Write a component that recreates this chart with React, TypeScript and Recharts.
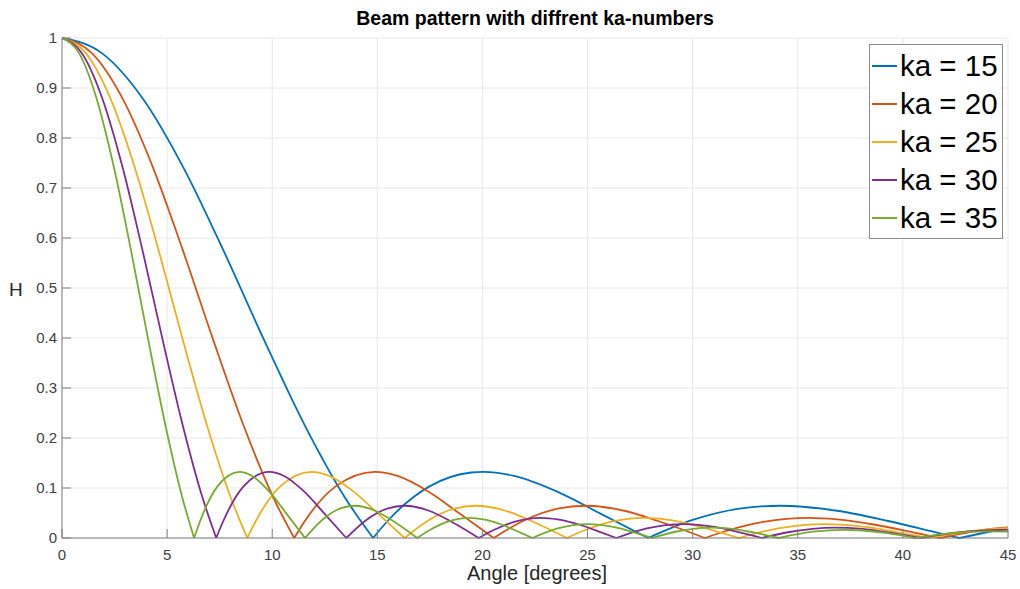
import React from "react";
import { LineChart, Line, XAxis, YAxis, CartesianGrid } from "recharts";

// beam pattern |H| vs angle, one lobe per segment (null = break at each zero)
const ka15Deg = [0, 1.91, 3.823, 5.739, 7.662, 9.594, 11.537, 13.493, 14.8, 14.8, 14.8, 15.466, 17.458, 19.471, 20.04, 21.51, 23.578, 25.68, 27.88, 27.88, 27.88, 30, 32.23, 34.15, 36.87, 39.3, 41.81, 42.7, 42.7, 42.7, 44.43, 45];
const ka15H = [1, 0.9692, 0.8801, 0.7439, 0.5767, 0.3977, 0.2261, 0.0785, 0, null, 0, 0.033, 0.1027, 0.131, 0.1323, 0.1241, 0.0922, 0.0473, 0, null, 0, 0.0361, 0.0587, 0.0645, 0.0545, 0.034, 0.0087, 0, null, 0, 0.015, 0.0195];

const ka20Deg = [0, 1.433, 2.866, 4.301, 5.739, 7.181, 8.627, 10.079, 11.046, 11.046, 11.046, 11.537, 13.003, 14.892, 15.962, 17.458, 18.966, 20.536, 20.536, 20.536, 22.024, 23.578, 24.9, 26.744, 28.36, 30.58, 30.58, 30.58, 31.67, 33.367, 35.52, 36.87, 38.68, 40.54, 41.77, 41.77, 41.77, 44.43, 45];
const ka20H = [1, 0.9692, 0.8801, 0.7439, 0.5767, 0.3977, 0.2261, 0.0785, 0, null, 0, 0.033, 0.1027, 0.1323, 0.1241, 0.0922, 0.0473, 0, null, 0, 0.0361, 0.0587, 0.0645, 0.0545, 0.034, 0, null, 0, 0.015, 0.0321, 0.0403, 0.0372, 0.0265, 0.0108, 0, null, 0, 0.0191, 0.0213];

const ka25Deg = [0, 1.146, 2.2925, 3.44, 4.589, 5.739, 6.892, 8.048, 8.817, 8.817, 8.817, 9.207, 10.37, 11.865, 12.709, 13.887, 15.071, 16.297, 16.297, 16.297, 17.458, 18.663, 19.682, 21.1, 22.33, 24.015, 24.015, 24.015, 24.835, 26.104, 27.7, 28.69, 30, 31.33, 32.2, 32.2, 32.2, 34.06, 36.3, 38.32, 39.79, 41.21, 41.21, 41.21, 42.84, 44.43, 45];
const ka25H = [1, 0.9692, 0.8801, 0.7439, 0.5767, 0.3977, 0.2261, 0.0785, 0, null, 0, 0.033, 0.1027, 0.1323, 0.1241, 0.0922, 0.0473, 0, null, 0, 0.0361, 0.0587, 0.0645, 0.0545, 0.034, 0, null, 0, 0.015, 0.0321, 0.0403, 0.0372, 0.0265, 0.0108, 0, null, 0, 0.0191, 0.0278, 0.0216, 0.0113, 0, null, 0, 0.0115, 0.0187, 0.0195];

const ka30Deg = [0, 0.955, 1.91, 2.866, 3.823, 4.78, 5.739, 6.7, 7.338, 7.338, 7.338, 7.662, 8.627, 9.865, 10.564, 11.537, 12.514, 13.524, 13.524, 13.524, 14.478, 15.466, 16.3, 17.458, 18.461, 19.823, 19.823, 19.823, 20.487, 21.51, 22.79, 23.578, 24.62, 25.68, 26.37, 26.37, 26.37, 27.82, 29.56, 31.11, 32.23, 33.3, 33.3, 33.3, 34.52, 36.78, 38.08, 39.3, 40.84, 40.84, 40.84, 41.81, 43.11, 44.75, 45];
const ka30H = [1, 0.9692, 0.8801, 0.7439, 0.5767, 0.3977, 0.2261, 0.0785, 0, null, 0, 0.033, 0.1027, 0.1323, 0.1241, 0.0922, 0.0473, 0, null, 0, 0.0361, 0.0587, 0.0645, 0.0545, 0.034, 0, null, 0, 0.015, 0.0321, 0.0403, 0.0372, 0.0265, 0.0108, 0, null, 0, 0.0191, 0.0278, 0.0216, 0.0113, 0, null, 0, 0.0115, 0.0209, 0.0181, 0.0111, 0, null, 0, 0.0067, 0.0132, 0.0163, 0.0163];

const ka35Deg = [0, 0.8185, 1.637, 2.456, 3.276, 4.096, 4.917, 5.739, 6.285, 6.285, 6.285, 6.563, 7.387, 8.445, 9.041, 9.871, 10.702, 11.563, 11.563, 11.563, 12.373, 13.212, 13.918, 14.896, 15.747, 16.898, 16.898, 16.898, 17.458, 18.318, 19.39, 20.05, 20.925, 21.805, 22.375, 22.375, 22.375, 23.578, 25.015, 26.286, 27.2, 28.07, 28.07, 28.07, 29.06, 30.875, 31.91, 32.88, 34.09, 34.09, 34.09, 34.85, 35.85, 37.12, 37.9, 38.94, 40.01, 40.565, 40.565, 40.565, 42.18, 44.09, 45];
const ka35H = [1, 0.9692, 0.8801, 0.7439, 0.5767, 0.3977, 0.2261, 0.0785, 0, null, 0, 0.033, 0.1027, 0.1323, 0.1241, 0.0922, 0.0473, 0, null, 0, 0.0361, 0.0587, 0.0645, 0.0545, 0.034, 0, null, 0, 0.015, 0.0321, 0.0403, 0.0372, 0.0265, 0.0108, 0, null, 0, 0.0191, 0.0278, 0.0216, 0.0113, 0, null, 0, 0.0115, 0.0209, 0.0181, 0.0111, 0, null, 0, 0.0067, 0.0132, 0.0163, 0.0155, 0.0112, 0.0047, 0, null, 0, 0.0093, 0.0133, 0.0128];

const seriesNames = ["ka = 15", "ka = 20", "ka = 25", "ka = 30", "ka = 35"];
const seriesColors = ["#0072BD", "#D95319", "#EDB120", "#7E2F8E", "#77AC30"];

const xTicks = [0, 5, 10, 15, 20, 25, 30, 35, 40, 45];
const yTicks = [0, 0.1, 0.2, 0.3, 0.4, 0.5, 0.6, 0.7, 0.8, 0.9, 1];

const toRows = (deg: number[], h: (number | null)[]) =>
  deg.map((d, i) => ({ deg: d, h: h[i] }));

const seriesData = [
  toRows(ka15Deg, ka15H),
  toRows(ka20Deg, ka20H),
  toRows(ka25Deg, ka25H),
  toRows(ka30Deg, ka30H),
  toRows(ka35Deg, ka35H),
];

const FONT = "'Liberation Sans', Arial, Helvetica, sans-serif";
const TICK_LEN = 9;

const XTick = ({ x, y, payload }: any) => (
  <g>
    <line x1={x} x2={x} y1={y} y2={y - TICK_LEN} stroke="#808080" />
    <text x={x} y={y + 22} textAnchor="middle" fontSize={15} fill="#404040" fontFamily={FONT}>
      {payload.value}
    </text>
  </g>
);

const YTick = ({ x, y, payload }: any) => (
  <g>
    <line x1={x} x2={x + TICK_LEN} y1={y} y2={y} stroke="#808080" />
    <text x={x - 5} y={y} dy="0.36em" textAnchor="end" fontSize={15} fill="#404040" fontFamily={FONT}>
      {payload.value}
    </text>
  </g>
);

export default function App() {
  return (
    <div style={{ position: "absolute", left: 0, top: 0, width: 1020, height: 589, background: "#fff", fontFamily: FONT }}>
      <LineChart width={1020} height={589} margin={{ top: 38, right: 12, bottom: 0, left: 0 }}>
        <CartesianGrid stroke="#e8e8e8" />
        <XAxis
          dataKey="deg"
          type="number"
          domain={[0, 45]}
          ticks={xTicks}
          height={51}
          tickSize={0}
          tickMargin={0}
          tickLine={false}
          axisLine={{ stroke: "#808080" }}
          tick={<XTick />}
          allowDataOverflow
        />
        <YAxis
          type="number"
          domain={[0, 1]}
          ticks={yTicks}
          width={62}
          tickSize={0}
          tickMargin={0}
          tickLine={false}
          axisLine={{ stroke: "#808080" }}
          tick={<YTick />}
        />
        {seriesData.map((rows, i) => (
          <Line
            key={seriesNames[i]}
            data={rows}
            dataKey="h"
            name={seriesNames[i]}
            type="monotone"
            stroke={seriesColors[i]}
            strokeWidth={1.8}
            dot={false}
            activeDot={false}
            connectNulls={false}
            isAnimationActive={false}
          />
        ))}
      </LineChart>

      {/* title and axis labels */}
      <div style={{ position: "absolute", left: 0, width: 1070, top: 7, textAlign: "center", fontWeight: "bold", fontSize: 19.5, color: "#000" }}>
        Beam pattern with diffrent ka-numbers
      </div>
      <div style={{ position: "absolute", left: 0, width: 1074, top: 562, textAlign: "center", fontSize: 20, color: "#262626" }}>
        Angle [degrees]
      </div>
      <div style={{ position: "absolute", left: 9, top: 279, fontSize: 19, color: "#262626" }}>H</div>

      {/* legend */}
      <div
        style={{
          position: "absolute",
          left: 869,
          top: 44,
          width: 134,
          height: 195,
          border: "1px solid #8c8c8c",
          background: "#fff",
          boxSizing: "border-box",
          paddingTop: 2,
        }}
      >
        {seriesNames.map((n, i) => (
          <div key={n} style={{ display: "flex", alignItems: "center", height: 38 }}>
            <div style={{ width: 25, height: 2, marginLeft: 2, background: seriesColors[i] }} />
            <span style={{ fontSize: 29.5, marginLeft: 3, color: "#000", lineHeight: "38px" }}>{n}</span>
          </div>
        ))}
      </div>
    </div>
  );
}
